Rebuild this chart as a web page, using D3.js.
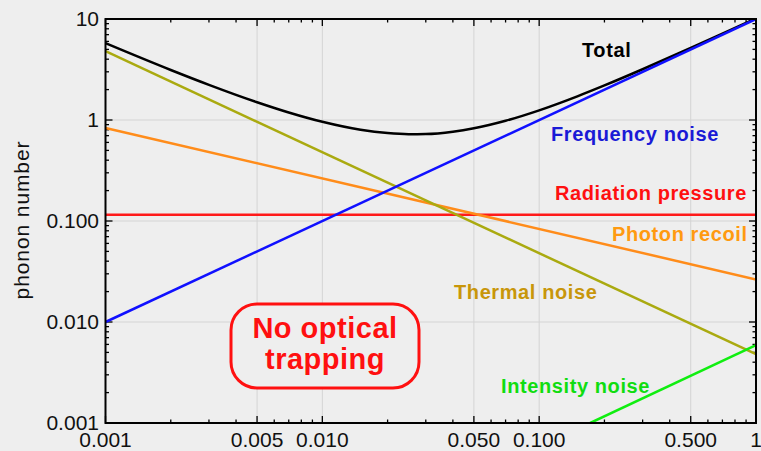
<!DOCTYPE html>
<html>
<head>
<meta charset="utf-8">
<script src="https://cdn.jsdelivr.net/npm/d3@7"></script>
<style>
  html, body { margin: 0; padding: 0; background: #eeeeee; }
  svg { display: block; }
  text { font-family: "Liberation Sans", Arial, sans-serif; }
</style>
</head>
<body>
<svg id="chart" width="761" height="451"></svg>
<script>
// ---- data ----
const xTickValues = [0.001, 0.005, 0.01, 0.05, 0.1, 0.5, 1];
const xTickLabels = ["0.001", "0.005", "0.010", "0.050", "0.100", "0.500", "1"];
const yTickValues = [10, 1, 0.1, 0.01, 0.001];
const yTickLabels = ["10", "1", "0.100", "0.010", "0.001"];
const xGridValues = [0.005, 0.01, 0.05, 0.1, 0.5];
const yGridValues = [1, 0.1, 0.01];

const lineX = [0.001, 1];
const frequencyNoise = [0.01, 10];
const radiationPressure = [0.115, 0.115];
const photonRecoil = [0.834, 0.0264];
const thermalNoise = [4.8, 0.0048];
const intensityX = [0.172, 1];
const intensityNoise = [0.001, 0.0059];

const totalX = [0.001, 0.002, 0.003, 0.005, 0.007, 0.01, 0.015, 0.02, 0.025, 0.03, 0.04, 0.05, 0.07, 0.1, 0.15, 0.2, 0.3, 0.5, 0.7, 1];
const totalY = [5.76, 3.125, 2.227, 1.498, 1.186, 0.959, 0.80, 0.742, 0.724, 0.727, 0.767, 0.829, 0.983, 1.247, 1.716, 2.199, 3.181, 5.165, 7.158, 10.15];

// ---- layout ----
const svg = d3.select("#chart");
const L = 105.5, R = 756, T = 19, B = 423;
const x = d3.scaleLog().domain([0.001, 1]).range([L, R]);
const y = d3.scaleLog().domain([0.001, 10]).range([B, T]);

svg.append("rect").attr("width", 761).attr("height", 451).attr("fill", "#eeeeee");

svg.append("defs").append("clipPath").attr("id", "clip")
  .append("rect").attr("x", L).attr("y", T).attr("width", R - L).attr("height", B - T);

// grid
const grid = svg.append("g").attr("stroke", "#d4d4d4").attr("stroke-width", 1);
grid.selectAll(".gx").data(xGridValues).join("line")
  .attr("x1", d => x(d)).attr("x2", d => x(d)).attr("y1", T).attr("y2", B);
grid.selectAll(".gy").data(yGridValues).join("line")
  .attr("y1", d => y(d)).attr("y2", d => y(d)).attr("x1", L).attr("x2", R);

// axes with inward ticks
function minorValues(dom) {
  const out = [];
  for (let e = Math.log10(dom[0]); e < Math.log10(dom[1]); e++) {
    for (let k = 1; k < 10; k++) out.push(k * Math.pow(10, e));
  }
  out.push(dom[1]);
  return out;
}
const xAll = minorValues([0.001, 1]);
const yAll = minorValues([0.001, 10]);
const isMajorX = v => xTickValues.some(t => Math.abs(t - v) / t < 1e-6);
const isMajorY = v => yTickValues.some(t => Math.abs(t - v) / t < 1e-6);

const ticks = svg.append("g").attr("stroke", "#000").attr("stroke-width", 1.3);
// bottom & top
ticks.selectAll(".tb").data(xAll).join("line")
  .attr("x1", d => x(d)).attr("x2", d => x(d))
  .attr("y1", B).attr("y2", d => B - (isMajorX(d) ? 7 : 3.5));
ticks.selectAll(".tt").data(xAll).join("line")
  .attr("x1", d => x(d)).attr("x2", d => x(d))
  .attr("y1", T).attr("y2", d => T + (isMajorX(d) ? 7 : 3.5));
// left & right
ticks.selectAll(".tl").data(yAll).join("line")
  .attr("y1", d => y(d)).attr("y2", d => y(d))
  .attr("x1", L).attr("x2", d => L + (isMajorY(d) ? 7 : 3.5));
ticks.selectAll(".tr").data(yAll).join("line")
  .attr("y1", d => y(d)).attr("y2", d => y(d))
  .attr("x1", R).attr("x2", d => R - (isMajorY(d) ? 7 : 3.5));

// tick labels
svg.append("g").selectAll("text").data(xTickValues).join("text")
  .attr("x", d => x(d)).attr("y", 447)
  .attr("text-anchor", "middle").attr("font-size", 21).attr("fill", "#111")
  .text((d, i) => xTickLabels[i]);
svg.append("g").selectAll("text").data(yTickValues).join("text")
  .attr("x", 99).attr("y", d => y(d)).attr("dy", "0.35em")
  .attr("text-anchor", "end").attr("font-size", 21).attr("fill", "#111")
  .text((d, i) => yTickLabels[i]);

svg.append("text")
  .attr("transform", "translate(29,220) rotate(-90)")
  .attr("text-anchor", "middle").attr("font-size", 21).attr("fill", "#111")
  .attr("letter-spacing", 0.9)
  .text("phonon number");

// data lines
const plot = svg.append("g").attr("clip-path", "url(#clip)");
const lineGen = d3.line().x(d => x(d[0])).y(d => y(d[1]));
const straight = (xs, ys) => xs.map((v, i) => [v, ys[i]]);

plot.append("path").attr("d", lineGen(straight(lineX, radiationPressure)))
  .attr("fill", "none").attr("stroke", "#ff1a1a").attr("stroke-width", 2.5);
plot.append("path").attr("d", lineGen(straight(lineX, photonRecoil)))
  .attr("fill", "none").attr("stroke", "#ff8c1a").attr("stroke-width", 2.5);
plot.append("path").attr("d", lineGen(straight(lineX, thermalNoise)))
  .attr("fill", "none").attr("stroke", "#aaaa10").attr("stroke-width", 2.5);
plot.append("path").attr("d", lineGen(straight(intensityX, intensityNoise)))
  .attr("fill", "none").attr("stroke", "#10ee10").attr("stroke-width", 2.5);
plot.append("path").attr("d", lineGen.curve(d3.curveMonotoneX)(straight(totalX, totalY)))
  .attr("fill", "none").attr("stroke", "#000").attr("stroke-width", 2.5);
lineGen.curve(d3.curveLinear);
plot.append("path").attr("d", lineGen(straight(lineX, frequencyNoise)))
  .attr("fill", "none").attr("stroke", "#1010ff").attr("stroke-width", 2.5);

// frame
svg.append("rect").attr("x", L).attr("y", T).attr("width", R - L).attr("height", B - T)
  .attr("fill", "none").attr("stroke", "#000").attr("stroke-width", 2);

// labels
const labels = [
  { t: "Total", x: 582, y: 57, c: "#000000" },
  { t: "Frequency noise", x: 551, y: 141, c: "#1a1ad6" },
  { t: "Radiation pressure", x: 555, y: 200, c: "#ff1010" },
  { t: "Photon recoil", x: 612, y: 241, c: "#ff9a10" },
  { t: "Thermal noise", x: 454, y: 299, c: "#c8960a" },
  { t: "Intensity noise", x: 501, y: 393, c: "#10dd10" }
];
svg.append("g").selectAll("text").data(labels).join("text")
  .attr("x", d => d.x).attr("y", d => d.y)
  .attr("font-size", 20).attr("letter-spacing", 0.6)
  .attr("font-weight", "bold").attr("fill", d => d.c)
  .text(d => d.t);

// No optical trapping box
const box = svg.append("g");
box.append("rect").attr("x", 231).attr("y", 304).attr("width", 188).attr("height", 84)
  .attr("rx", 26).attr("ry", 26).attr("fill", "#eeeeee")
  .attr("stroke", "#ff1010").attr("stroke-width", 3);
box.append("text").attr("x", 325).attr("y", 338).attr("text-anchor", "middle")
  .attr("font-size", 29).attr("letter-spacing", 0.5)
  .attr("font-weight", "bold").attr("fill", "#ff1010").text("No optical");
box.append("text").attr("x", 325).attr("y", 369).attr("text-anchor", "middle")
  .attr("font-size", 29).attr("letter-spacing", 0.5)
  .attr("font-weight", "bold").attr("fill", "#ff1010").text("trapping");
</script>
</body>
</html>
